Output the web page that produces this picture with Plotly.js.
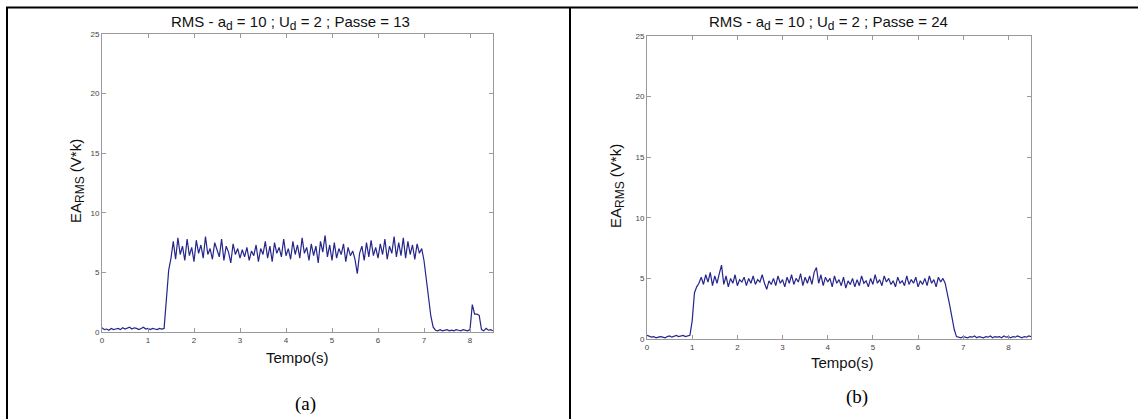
<!DOCTYPE html>
<html>
<head>
<meta charset="utf-8">
<script src="https://cdn.plot.ly/plotly-3.0.1.min.js"></script>
<style>
html,body{margin:0;padding:0;background:#fff;}
#chart{width:1138px;height:419px;}
</style>
</head>
<body>
<div id="chart"></div>
<script>
// Sampling: t = 0 .. 8.5 s, step 0.05 s
const sampleStart = 0;
const sampleStep = 0.05;

const titleA = "RMS - a<sub><span style='font-size:12px'>d</span></sub> = 10 ; U<sub><span style='font-size:12px'>d</span></sub> = 2 ; Passe = 13";
const titleB = "RMS - a<sub><span style='font-size:12px'>d</span></sub> = 10 ; U<sub><span style='font-size:12px'>d</span></sub> = 2 ; Passe = 24";
const xLabel = "Tempo(s)";
const yLabel = "EA<sub><span style='font-size:12px'>RMS</span></sub> (V*k)";
const captions = ["(a)", "(b)"];
const xTicks = [0,1,2,3,4,5,6,7,8];
const yTicks = [0,5,10,15,20,25];

const rmsA = [
 0.35,0.2,0.25,0.15,0.3,0.2,0.25,0.3,0.2,0.35,0.25,0.3,0.4,0.25,0.35,0.3,0.2,0.3,0.4,0.25,0.3,0.2,0.3,0.25,0.2,0.3,0.25,0.3,
 2.5,5.2,6.2,
 7.6,6.1,7.9,6.5,7.2,6.0,7.8,6.4,7.1,5.9,7.7,6.6,7.3,6.2,8.0,6.5,7.0,6.1,7.5,6.9,
 6.3,7.8,6.0,7.2,6.7,5.8,7.4,6.5,7.0,6.2,
 6.9,6.3,7.1,6.0,6.8,6.4,7.3,5.9,7.0,6.5,
 7.6,6.2,7.2,5.9,7.5,6.6,7.1,6.3,7.8,6.4,
 7.0,6.1,7.6,6.5,7.3,6.2,7.9,6.6,7.1,6.0,
 7.4,6.4,7.2,5.8,7.6,6.7,8.1,6.3,7.3,6.0,
 7.5,6.2,7.0,6.5,7.4,5.9,7.1,6.4,6.8,6.1,
 4.9,6.6,7.2,6.0,7.5,6.3,7.7,6.4,7.1,6.2,
 7.4,6.5,7.8,6.1,7.2,6.6,8.0,6.3,7.5,6.4,
 7.9,6.2,7.6,6.5,7.3,6.1,7.4,6.6,7.0,
 6.0,4.5,2.8,1.3,0.4,
 0.15,0.1,0.2,0.1,0.15,0.2,0.1,0.15,0.1,0.2,0.15,0.1,0.2,0.15,0.1,0.2,
 2.3,1.5,1.5,1.4,
 0.2,0.1,0.3,0.15,0.2,0.1
];

const rmsB = [
 0.3,0.2,0.15,0.2,0.1,0.15,0.2,0.15,0.1,0.2,0.25,0.15,0.2,0.3,0.2,0.25,0.3,0.2,0.25,0.3,
 1.5,3.8,4.3,
 4.6,5.1,4.5,5.3,4.7,5.5,4.4,5.2,4.6,5.4,
 6.1,4.5,5.2,4.3,5.0,4.6,5.3,4.4,4.9,4.7,
 5.1,4.4,5.0,4.6,5.2,4.5,4.9,4.7,5.3,4.6,
 4.1,4.8,4.5,5.0,4.4,5.2,4.6,4.9,4.3,5.1,
 4.6,5.3,4.5,5.0,4.7,5.4,4.4,5.1,4.6,5.2,
 4.5,5.5,5.9,4.6,5.3,4.4,5.1,4.7,5.0,4.3,
 5.2,4.6,4.9,4.4,5.1,4.2,4.8,4.5,5.0,4.3,
 4.9,4.4,5.2,4.6,4.8,4.3,5.0,4.5,5.3,4.6,
 4.9,4.4,5.2,4.7,5.0,4.5,4.8,4.3,5.1,4.6,
 4.8,4.4,5.2,4.5,4.9,4.6,5.1,4.3,4.8,4.5,
 5.0,4.4,5.2,4.6,4.9,4.3,5.1,4.7,5.0,
 4.6,3.8,2.8,1.8,0.8,
 0.2,0.15,0.1,0.2,0.15,0.1,0.2,0.15,0.25,0.1,0.2,0.15,0.1,0.2,0.15,0.25,0.1,0.2,0.15,0.2,0.1,0.25,0.15,0.2,0.1,0.2,0.15,0.25,0.2,0.1,0.2,0.15,0.25,0.2
];

const W = 1138, H = 419;
const px = v => v / W;
const py = v => 1 - v / H;

const lineStyle = {color: '#25258c', width: 1.2};

const traces = [
  {type: 'scatter', mode: 'lines', x0: sampleStart, dx: sampleStep, y: rmsA, line: lineStyle, xaxis: 'x', yaxis: 'y', hoverinfo: 'skip'},
  {type: 'scatter', mode: 'lines', x0: sampleStart, dx: sampleStep, y: rmsB, line: lineStyle, xaxis: 'x2', yaxis: 'y2', hoverinfo: 'skip'}
];

const axisCommon = {
  showgrid: false, zeroline: false,
  showline: true, linecolor: '#9a9a9a', linewidth: 1, mirror: 'ticks',
  ticks: 'inside', ticklen: 4, tickcolor: '#9a9a9a', tickwidth: 1,
  tickfont: {family: 'Liberation Sans, Arial, sans-serif', size: 8, color: '#444'},
  fixedrange: true
};

const baseFont = 'Liberation Sans, Arial, sans-serif';

const layout = {
  width: W, height: H,
  margin: {l: 0, r: 0, t: 0, b: 0},
  paper_bgcolor: '#fff', plot_bgcolor: '#fff',
  showlegend: false,
  xaxis: Object.assign({}, axisCommon, {domain: [px(102), px(493)], range: [0, 8.5], tickvals: xTicks, anchor: 'y'}),
  yaxis: Object.assign({}, axisCommon, {domain: [py(332), py(34)], range: [0, 25], tickvals: yTicks, anchor: 'x'}),
  xaxis2: Object.assign({}, axisCommon, {domain: [px(647), px(1031)], range: [0, 8.5], tickvals: xTicks, anchor: 'y2'}),
  yaxis2: Object.assign({}, axisCommon, {domain: [py(339), py(36)], range: [0, 25], tickvals: yTicks, anchor: 'x2'}),
  shapes: [
    {type: 'line', xref: 'paper', yref: 'paper', x0: px(6), x1: 1, y0: py(7.5), y1: py(7.5), line: {color: '#000', width: 2}},
    {type: 'line', xref: 'paper', yref: 'paper', x0: px(7), x1: px(7), y0: py(7), y1: 0, line: {color: '#000', width: 2}},
    {type: 'line', xref: 'paper', yref: 'paper', x0: px(570), x1: px(570), y0: py(7), y1: 0, line: {color: '#000', width: 2}}
  ],
  annotations: [
    {text: titleA, xref: 'paper', yref: 'paper', x: px(290), y: py(23), xanchor: 'center', yanchor: 'middle', showarrow: false,
     font: {family: baseFont, size: 15, color: '#111'}},
    {text: titleB, xref: 'paper', yref: 'paper', x: px(828), y: py(23), xanchor: 'center', yanchor: 'middle', showarrow: false,
     font: {family: baseFont, size: 15, color: '#111'}},
    {text: yLabel, xref: 'paper', yref: 'paper', x: px(77), y: py(181), xanchor: 'center', yanchor: 'middle', textangle: -90, showarrow: false,
     font: {family: baseFont, size: 15, color: '#111'}},
    {text: yLabel, xref: 'paper', yref: 'paper', x: px(617), y: py(186), xanchor: 'center', yanchor: 'middle', textangle: -90, showarrow: false,
     font: {family: baseFont, size: 15, color: '#111'}},
    {text: xLabel, xref: 'paper', yref: 'paper', x: px(297), y: py(357), xanchor: 'center', yanchor: 'middle', showarrow: false,
     font: {family: baseFont, size: 15, color: '#111'}},
    {text: xLabel, xref: 'paper', yref: 'paper', x: px(842), y: py(362), xanchor: 'center', yanchor: 'middle', showarrow: false,
     font: {family: baseFont, size: 15, color: '#111'}},
    {text: captions[0], xref: 'paper', yref: 'paper', x: px(305), y: py(404), xanchor: 'center', yanchor: 'middle', showarrow: false,
     font: {family: 'Liberation Serif, Times New Roman, serif', size: 19, color: '#000'}},
    {text: captions[1], xref: 'paper', yref: 'paper', x: px(857), y: py(397), xanchor: 'center', yanchor: 'middle', showarrow: false,
     font: {family: 'Liberation Serif, Times New Roman, serif', size: 19, color: '#000'}}
  ]
};

Plotly.newPlot('chart', traces, layout, {staticPlot: true, displayModeBar: false});
</script>
</body>
</html>
